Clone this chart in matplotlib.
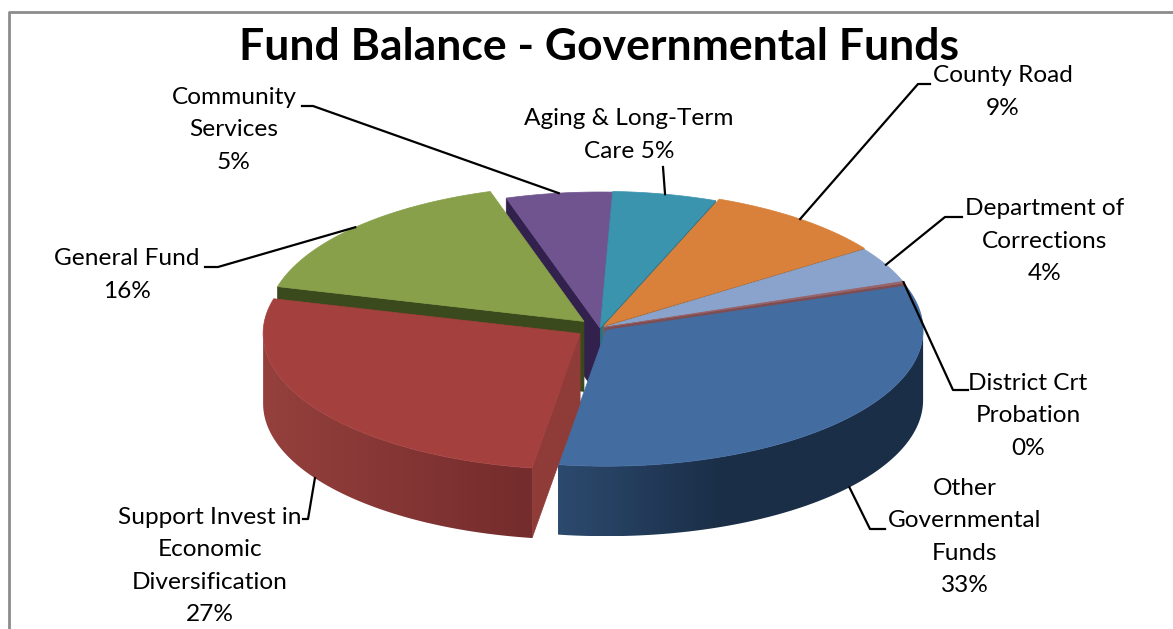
import numpy as np
import matplotlib
matplotlib.use("Agg")
import matplotlib.pyplot as plt
from matplotlib.colors import LinearSegmentedColormap
from matplotlib.patches import Polygon

plt.rcParams['font.family'] = ['Lato', 'DejaVu Sans']

# Slices run clockwise from the start angle
funds = ["Other Governmental Funds", "Support Invest in Economic Diversification",
         "General Fund", "Community Services", "Aging & Long-Term Care",
         "County Road", "Department of Corrections", "District Crt Probation"]
shares = [32.7, 26.7, 16.1, 5.4, 5.3, 9.4, 4.2, 0.2]
label_text = ["Other\nGovernmental\nFunds\n{}%",
              "Support Invest in\nEconomic\nDiversification\n{}%",
              "General Fund\n{}%",
              "Community\nServices\n{}%",
              "Aging & Long-Term\nCare {}%",
              "County Road\n{}%",
              "Department of\nCorrections\n{}%",
              "District Crt\nProbation\n{}%"]
explode = [0.025, 0.075, 0.07, 0.0, 0.005, 0.02, 0.015, 0.015]

top_colors = ["#436ca1", "#a4403e", "#88a04a", "#6f5490", "#3a94ae", "#d9813a", "#8aa3cc", "#9a6468"]
face_colors = ["#27415f", "#8f3b38", "#3b4a1c", "#32214d", "#2d7186", "#a55d20", "#6a7ea0", "#7d4d52"]
wall_left = ["#2c4a6e", "#95403d", "#3b4a1c", "#32214d", "#2d7186", "#a55d20", "#6a7ea0", "#7d4d52"]
wall_right = ["#1a2e47", "#742c2c", "#3b4a1c", "#32214d", "#2d7186", "#a55d20", "#6a7ea0", "#7d4d52"]

# Where each label sits and the elbow of its leader line, in figure pixels
label_xy = [(965, 537), (210, 566), (127, 275), (234, 130), (629, 135), (1003, 92), (1045, 241), (1028, 416)]
leader_elbow = [[(885, 529), (870, 529)], [(303, 519), (308, 519)], [(205, 267), (218, 267)],
                [(302, 106), (313, 106)], [(663, 167)], [(930, 84), (918, 84)],
                [(962, 217), (945, 217)], [(968, 390), (953, 390)]]

CENTER_X, CENTER_Y = 600, 328
RX, RY = 317, 136
DEPTH = 70
START_ANGLE = 19.0
# Back slices first so the front ones paint over them
DRAW_ORDER = [3, 4, 5, 6, 7, 2, 0, 1]


def rim(cx, cy, angle):
    rad = np.radians(angle)
    return cx + RX * np.cos(rad), cy - RY * np.sin(rad)


def draw_slice(ax, i, hi, lo, layer):
    mid = np.radians((hi + lo) / 2)
    cx = CENTER_X + RX * explode[i] * np.cos(mid)
    cy = CENTER_Y - RY * explode[i] * np.sin(mid)

    # Cut faces that turn towards the viewer
    for angle in (hi, lo):
        towards = -np.cos(np.radians(angle)) if angle == hi else np.cos(np.radians(angle))
        if towards > 0:
            x, y = rim(cx, cy, angle)
            ax.fill([cx, x, x, cx], [cy, y, y + DEPTH, cy + DEPTH],
                    color=face_colors[i], lw=0.5, zorder=layer)

    # Outer wall: a left-to-right gradient clipped to the wall outline
    wall_hi, wall_lo = min(hi, 0), max(lo, -180)
    if wall_hi > wall_lo:
        arc = np.linspace(wall_lo, wall_hi, 120)
        xs, ys = rim(cx, cy, arc)
        outline = np.c_[np.r_[xs, xs[::-1]], np.r_[ys, ys[::-1] + DEPTH]]
        shape = Polygon(outline, closed=True, facecolor="none", edgecolor="none", zorder=layer)
        ax.add_patch(shape)
        # Blue reaches its darkest tone well before the right end of the wall
        span_end = xs.min() + (xs.max() - xs.min()) * (0.45 if i == 0 else 1.0)
        ramp = np.clip((np.linspace(xs.min(), xs.max(), 256) - xs.min()) / (span_end - xs.min()), 0, 1)
        cmap = LinearSegmentedColormap.from_list("wall", [wall_left[i], wall_right[i]])
        img = ax.imshow(ramp[np.newaxis, :], cmap=cmap, vmin=0, vmax=1, aspect="auto",
                        extent=(xs.min(), xs.max(), ys.max() + DEPTH, ys.min()),
                        interpolation="bilinear", zorder=layer + 0.1)
        img.set_clip_path(shape)

    # Top face
    arc = np.linspace(lo, hi, 120)
    xs, ys = rim(cx, cy, arc)
    ax.fill(np.r_[cx, xs], np.r_[cy, ys], color=top_colors[i], lw=0.5, zorder=layer + 0.2)
    return cx, cy


def main():
    fig = plt.figure(figsize=(11.73, 6.29), dpi=100)
    ax = fig.add_axes([0, 0, 1, 1])

    # Chart frame, cut off at the right and bottom edges
    ax.plot([9, 9, 1173], [629, 12, 12], color="#8c8c8c", lw=2, zorder=1)

    edges = START_ANGLE - np.r_[0, np.cumsum(shares)] * 360 / sum(shares)
    centers = {}
    for layer, i in enumerate(DRAW_ORDER):
        centers[i] = draw_slice(ax, i, edges[i], edges[i + 1], layer + 2)

    ax.set_xlim(0, 1173)
    ax.set_ylim(629, 0)
    ax.axis("off")

    ax.text(599, 47, "Fund Balance - Governmental Funds", ha="center", va="center",
            fontsize=32, fontweight="bold", color="black", zorder=20)

    for i, name in enumerate(funds):
        mid = (edges[i] + edges[i + 1]) / 2
        end_x, end_y = rim(*centers[i], mid)
        if np.sin(np.radians(mid)) < 0:
            end_y += DEPTH
        pts = leader_elbow[i] + [(end_x, end_y)]
        ax.plot([p[0] for p in pts], [p[1] for p in pts], color="black", lw=1.6, zorder=20)
        ax.text(label_xy[i][0], label_xy[i][1], label_text[i].format(round(shares[i])),
                ha="center", va="center", fontsize=17.6, linespacing=1.66, color="black", zorder=20)

    fig.savefig("out.png", dpi=100)
    plt.close(fig)


if __name__ == "__main__":
    main()
